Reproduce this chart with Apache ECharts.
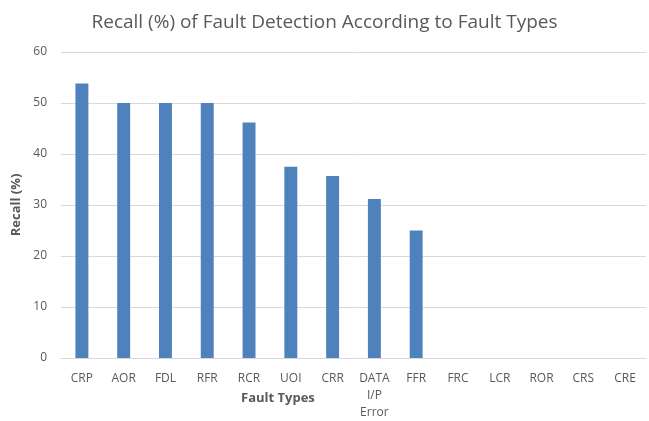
<!DOCTYPE html>
<html><head><meta charset="utf-8">
<script src="https://cdn.jsdelivr.net/npm/echarts@6/dist/echarts.min.js"></script>
<style>html,body{margin:0;padding:0;background:#fff}#c{width:649px;height:421px}</style>
</head><body><div id="c"></div>
<script>
const categories = ['CRP','AOR','FDL','RFR','RCR','UOI','CRR','DATA\nI/P\nError','FFR','FRC','LCR','ROR','CRS','CRE'];
const recall = [53.8, 50, 50, 50, 46.2, 37.5, 35.7, 31.2, 25, 0, 0, 0, 0, 0];
const yTicks = {min: 0, max: 60, interval: 10};
const font = '"Open Sans", "Liberation Sans", sans-serif';
const chart = echarts.init(document.getElementById('c'));
chart.setOption({
  animation: false,
  title: {text: 'Recall (%) of Fault Detection According to Fault Types', left: 'center', top: 8,
    textStyle: {fontFamily: font, fontSize: 19, fontWeight: 'normal', color: '#595959'}},
  grid: {left: 61, right: 3, top: 52, bottom: 57, containLabel: false},
  xAxis: {type: 'category', data: categories,
    axisLine: {lineStyle: {color: '#d9d9d9'}}, axisTick: {show: false},
    axisLabel: {color: '#595959', fontFamily: font, fontSize: 12, margin: 12, lineHeight: 17, interval: 0}},
  yAxis: {type: 'value', min: yTicks.min, max: yTicks.max, interval: yTicks.interval,
    name: 'Recall (%)', nameLocation: 'middle', nameGap: 37,
    nameTextStyle: {color: '#595959', fontFamily: font, fontSize: 13, fontWeight: 'bold'},
    axisLabel: {color: '#595959', fontFamily: font, fontSize: 12, margin: 14},
    splitLine: {lineStyle: {color: '#d9d9d9'}}},
  graphic: [{type: 'text', left: 241, top: 392,
    style: {text: 'Fault Types', fill: '#595959', font: 'bold 13px ' + font}}],
  series: [{type: 'bar', data: recall, barWidth: '31%', itemStyle: {color: '#4f81bd'}}]
});
</script></body></html>
